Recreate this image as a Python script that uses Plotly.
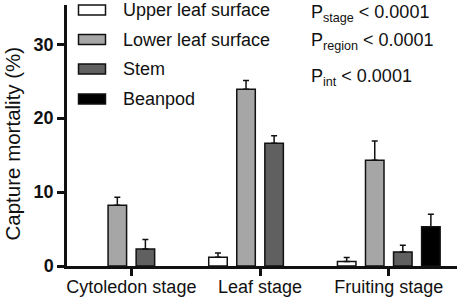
import plotly.graph_objects as go

categories = ["Cytoledon stage", "Leaf stage", "Fruiting stage"]
series_names = ["Upper leaf surface", "Lower leaf surface", "Stem", "Beanpod"]
upper = [None, 1.2, 0.6]
upper_err = [None, 0.55, 0.55]
lower = [8.2, 23.9, 14.3]
lower_err = [1.1, 1.2, 2.6]
stem = [2.3, 16.6, 1.9]
stem_err = [1.3, 1.0, 0.9]
beanpod = [None, None, 5.3]
beanpod_err = [None, None, 1.7]
y_ticks = [0, 10, 20, 30]
p_labels = ["P<sub>stage</sub> < 0.0001", "P<sub>region</sub> < 0.0001", "P<sub>int</sub> < 0.0001"]

fills = ["#ffffff", "#a6a6a6", "#606060", "#000000"]
FONT = "Liberation Sans, Arial, sans-serif"

fig = go.Figure()
values = [upper, lower, stem, beanpod]
errs = [upper_err, lower_err, stem_err, beanpod_err]
for name, v, e, c in zip(series_names, values, errs, fills):
    fig.add_trace(go.Bar(
        x=categories, y=v, name=name,
        marker=dict(color=c, line=dict(color="#111111", width=1.5)),
        error_y=dict(type="data", array=e, arrayminus=[0] * len(e), symmetric=False,
                     color="#111111", thickness=1.5, width=3),
        showlegend=False,
    ))

# plot area pixel geometry
L, R, T, B = 67, 457, 5, 266
W, H = 459, 299

def px_x(px):
    return (px - L) / (R - L)

def px_y(py):
    return (B - py) / (B - T)

# manual legend
leg_rows = [10, 39.5, 69, 99]
for name, c, cy in zip(series_names, fills, leg_rows):
    fig.add_shape(type="rect", xref="paper", yref="paper",
                  x0=px_x(78.5), x1=px_x(105.5), y0=px_y(cy + 5), y1=px_y(cy - 5),
                  fillcolor=c, line=dict(color="#111111", width=1.5))
    fig.add_annotation(text=name, xref="paper", yref="paper", x=px_x(121), y=px_y(cy),
                       xanchor="left", yanchor="middle", showarrow=False,
                       font=dict(family=FONT, size=18, color="#111111"))

p_rows = [13.5, 42, 77]
for t, cy in zip(p_labels, p_rows):
    fig.add_annotation(text=t, xref="paper", yref="paper", x=px_x(309), y=px_y(cy),
                       xanchor="left", yanchor="middle", showarrow=False,
                       font=dict(family=FONT, size=18, color="#111111"))

fig.add_annotation(text="Capture mortality (%)", xref="paper", yref="paper",
                   x=px_x(12), y=px_y(143.5), textangle=-90,
                   xanchor="center", yanchor="middle", showarrow=False,
                   font=dict(family=FONT, size=20.5, color="#111111"))

fig.update_layout(
    width=W, height=H,
    margin=dict(l=L, r=W - R, t=T, b=H - B, autoexpand=False),
    paper_bgcolor="white", plot_bgcolor="white",
    barmode="group", bargap=0.128, bargroupgap=0.34,
    font=dict(family=FONT, color="#111111"),
)
fig.update_xaxes(
    automargin=False,
    range=[-0.5, 2.53], showline=True, linecolor="#111111", linewidth=2.5,
    ticks="outside", ticklen=7, tickwidth=2.5, tickcolor="#111111",
    ticklabelstandoff=-4,
    tickfont=dict(family=FONT, size=18, color="#111111"), showgrid=False, zeroline=False,
)
fig.update_yaxes(
    automargin=False,
    range=[0, 35.3], tickvals=y_ticks, showline=True, linecolor="#111111", linewidth=2.5,
    ticks="outside", ticklen=7, tickwidth=2.5, tickcolor="#111111",
    tickfont=dict(family=FONT, size=18, color="#111111", weight="bold"),
    showgrid=False, zeroline=False,
)

fig.write_html(
    "out.html",
    config={"displayModeBar": False},
    post_script="document.body.style.margin='0';document.body.style.overflow='hidden';",
)
